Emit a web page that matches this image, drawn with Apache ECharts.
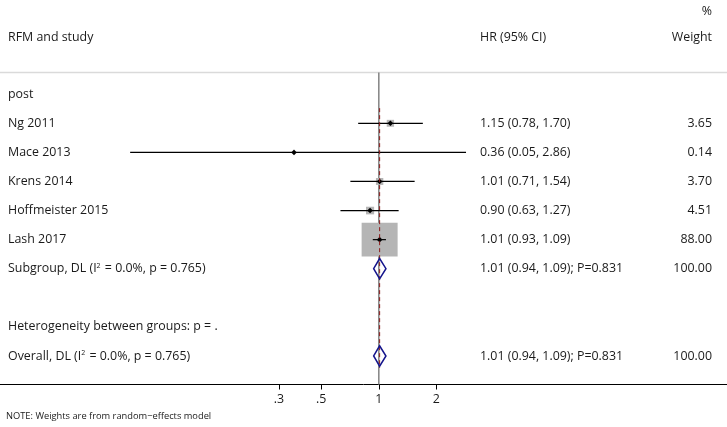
<!DOCTYPE html>
<html>
<head>
<meta charset="utf-8">
<script src="https://cdn.jsdelivr.net/npm/echarts@6/dist/echarts.min.js"></script>
<style>
    html, body { margin: 0; padding: 0; background: #fff; }
    #chart { width: 727px; height: 427px; }
</style>
</head>
<body>
<div id="chart"></div>
<script>
// 数据：各研究的 HR 与 95% CI
const groupLabel = 'post';
const studies = ['Ng 2011', 'Mace 2013', 'Krens 2014', 'Hoffmeister 2015', 'Lash 2017'];
const hr = [1.15, 0.36, 1.01, 0.90, 1.01];
const lower = [0.78, 0.05, 0.71, 0.63, 0.93];
const upper = [1.70, 2.86, 1.54, 1.27, 1.09];
const weights = [3.65, 0.14, 3.70, 4.51, 88.00];

// 合并结果（亚组与总体）
const poolLabels = ['Subgroup, DL', 'Overall, DL'];
const poolI2 = ['0.0%', '0.0%'];
const poolHetP = ['0.765', '0.765'];
const poolHR = [1.01, 1.01];
const poolLower = [0.94, 0.94];
const poolUpper = [1.09, 1.09];
const poolP = ['0.831', '0.831'];
const poolWeights = [100.00, 100.00];
const poolRows = [6, 9];
const hetLabel = 'Heterogeneity between groups: p = .';
const hetRow = 8;

const xTicks = [0.3, 0.5, 1, 2];

const FONT = '"Open Sans", "Noto Sans", sans-serif';
const FS = 12.4;
const ln = Math.log;
const maxWeight = Math.max(...weights);
const overallHR = poolHR[poolHR.length - 1];

// 每一行的文字
const textRows = [{ row: 0, label: groupLabel }];
studies.forEach((s, i) => {
    textRows.push({
        row: i + 1,
        label: s,
        hrText: `${hr[i].toFixed(2)} (${lower[i].toFixed(2)}, ${upper[i].toFixed(2)})`,
        wText: weights[i].toFixed(2)
    });
});
poolLabels.forEach((s, i) => {
    textRows.push({
        row: poolRows[i],
        rich: `{t|${s} (I}{s|2}{t| = ${poolI2[i]}, p = ${poolHetP[i]})}`,
        hrText: `${poolHR[i].toFixed(2)} (${poolLower[i].toFixed(2)}, ${poolUpper[i].toFixed(2)}); P=${poolP[i]}`,
        wText: poolWeights[i].toFixed(2)
    });
});
textRows.push({ row: hetRow, label: hetLabel });

const chart = echarts.init(document.getElementById('chart'));

function renderStudy(params, api) {
    const row = api.value(3);
    const p1 = api.coord([api.value(0), row]);
    const p2 = api.coord([api.value(1), row]);
    const c = api.coord([api.value(2), row]);
    const side = 36 * Math.sqrt(api.value(4) / maxWeight);
    const d = 2.8;
    return {
        type: 'group',
        children: [
            {
                type: 'rect',
                shape: { x: c[0] - side / 2, y: c[1] - side * 0.47, width: side, height: side * 0.94 },
                style: { fill: '#b5b5b5' }
            },
            {
                type: 'line',
                shape: { x1: p1[0], y1: p1[1], x2: p2[0], y2: p2[1] },
                style: { stroke: '#000', lineWidth: 1.2 }
            },
            {
                type: 'polygon',
                shape: { points: [[c[0] - d, c[1]], [c[0], c[1] - d], [c[0] + d, c[1]], [c[0], c[1] + d]] },
                style: { fill: '#000' }
            }
        ]
    };
}

function renderDiamond(params, api) {
    const row = api.value(3);
    const a = api.coord([api.value(0), row]);
    const b = api.coord([api.value(1), row]);
    const top = api.coord([api.value(2), row - 0.35]);
    const bot = api.coord([api.value(2), row + 0.35]);
    return {
        type: 'polygon',
        shape: { points: [a, top, b, bot] },
        style: { fill: 'none', stroke: '#14148c', lineWidth: 1.5 }
    };
}

function renderOverallLine(params, api) {
    const p1 = api.coord([api.value(0), api.value(1)]);
    const p2 = api.coord([api.value(0), api.value(2)]);
    return {
        type: 'line',
        shape: { x1: p1[0], y1: p1[1], x2: p2[0], y2: p2[1] },
        style: { stroke: '#8b1a1a', lineWidth: 1, lineDash: [4, 3] }
    };
}

function renderText(params, api) {
    const t = textRows[params.dataIndex];
    const y = api.coord([0, api.value(1)])[1];
    const base = { fill: '#1a1a1a', fontSize: FS, fontFamily: FONT, verticalAlign: 'middle' };
    const children = [];
    if (t.rich) {
        children.push({
            type: 'text', x: 8, y: y,
            style: Object.assign({}, base, {
                text: t.rich, align: 'left',
                rich: {
                    t: { fontSize: FS, fontFamily: FONT, fill: '#1a1a1a' },
                    s: { fontSize: 7, fontFamily: FONT, fill: '#1a1a1a', verticalAlign: 'top', padding: [0, 1, 6, 0] }
                }
            })
        });
    } else {
        children.push({ type: 'text', x: 8, y: y, style: Object.assign({}, base, { text: t.label, align: 'left' }) });
    }
    if (t.hrText) {
        children.push({ type: 'text', x: 480, y: y, style: Object.assign({}, base, { text: t.hrText, align: 'left' }) });
        children.push({ type: 'text', x: 712, y: y, style: Object.assign({}, base, { text: t.wText, align: 'right' }) });
    }
    return { type: 'group', children: children };
}

const option = {
    animation: false,
    backgroundColor: '#fff',
    grid: { left: 0, right: 0, top: 72.5, bottom: 42.5, outerBoundsMode: 'none' },
    xAxis: {
        type: 'value',
        min: -378.8 / 83,
        max: (727 - 378.8) / 83,
        axisLine: { show: true, onZero: false, lineStyle: { color: '#000', width: 1 } },
        axisTick: { show: true, customValues: xTicks.map(ln), length: 5, lineStyle: { color: '#000' } },
        axisLabel: {
            customValues: xTicks.map(ln),
            margin: 9,
            fontSize: FS,
            fontFamily: FONT,
            color: '#1a1a1a',
            formatter: v => {
                const x = Math.round(Math.exp(v) * 10) / 10;
                return x < 1 ? String(x).replace(/^0/, '') : String(x);
            }
        },
        splitLine: { show: false }
    },
    yAxis: {
        type: 'value',
        inverse: true,
        min: -0.746,
        max: 9.98,
        show: false
    },
    graphic: [
        { type: 'line', shape: { x1: 0, y1: 72.5, x2: 727, y2: 72.5 }, style: { stroke: '#dadada', lineWidth: 1.3 } },
        { type: 'text', x: 712, y: 11, style: { text: '%', fontSize: FS, fontFamily: FONT, fill: '#1a1a1a', align: 'right', verticalAlign: 'middle' } },
        { type: 'text', x: 8, y: 37, style: { text: 'RFM and study', fontSize: FS, fontFamily: FONT, fill: '#1a1a1a', align: 'left', verticalAlign: 'middle' } },
        { type: 'text', x: 480, y: 37, style: { text: 'HR (95% CI)', fontSize: FS, fontFamily: FONT, fill: '#1a1a1a', align: 'left', verticalAlign: 'middle' } },
        { type: 'text', x: 712, y: 37, style: { text: 'Weight', fontSize: FS, fontFamily: FONT, fill: '#1a1a1a', align: 'right', verticalAlign: 'middle' } },
        { type: 'text', x: 6, y: 416, style: { text: 'NOTE: Weights are from random\u2212effects model', fontSize: 9.3, fontFamily: FONT, fill: '#1a1a1a', align: 'left', verticalAlign: 'middle' } }
    ],
    series: [
        {
            // x=1 参考线
            type: 'custom',
            silent: true,
            data: [[0, -0.746, 9.98]],
            renderItem: (params, api) => {
                const p1 = api.coord([api.value(0), api.value(1)]);
                const p2 = api.coord([api.value(0), api.value(2)]);
                return { type: 'line', shape: { x1: p1[0], y1: p1[1], x2: p2[0], y2: p2[1] }, style: { stroke: '#8a8a8a', lineWidth: 1.6 } };
            },
            z: 1
        },
        {
            type: 'custom',
            silent: true,
            data: studies.map((s, i) => [ln(lower[i]), ln(upper[i]), ln(hr[i]), i + 1, weights[i]]),
            renderItem: renderStudy,
            z: 2
        },
        {
            // 总体估计虚线
            type: 'custom',
            silent: true,
            data: [[ln(overallHR), 0.48, 9.41]],
            renderItem: renderOverallLine,
            z: 3
        },
        {
            type: 'custom',
            silent: true,
            data: poolHR.map((v, i) => [ln(poolLower[i]), ln(poolUpper[i]), ln(v), poolRows[i]]),
            renderItem: renderDiamond,
            z: 4
        },
        {
            type: 'custom',
            silent: true,
            clip: false,
            data: textRows.map(t => [0, t.row]),
            renderItem: renderText,
            z: 5
        }
    ]
};

chart.setOption(option);
</script>
</body>
</html>
